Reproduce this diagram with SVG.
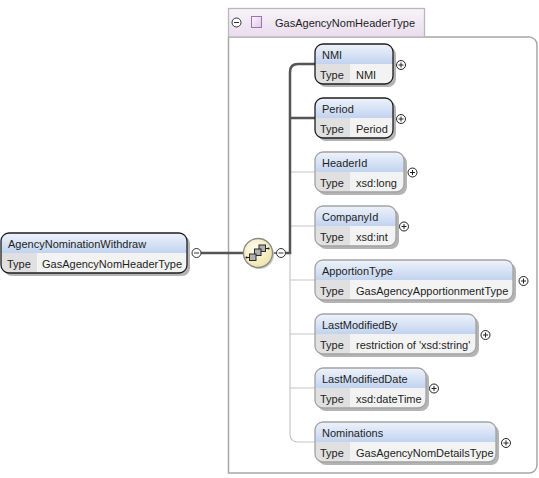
<svg xmlns="http://www.w3.org/2000/svg" width="539" height="478" viewBox="0 0 539 478">
<defs>
<linearGradient id="gHd" x1="0" y1="0" x2="0" y2="1"><stop offset="0" stop-color="#eef3fb"/><stop offset="1" stop-color="#c2d3f0"/></linearGradient>
<linearGradient id="gTab" x1="0" y1="0" x2="0" y2="1"><stop offset="0" stop-color="#f8f4f9"/><stop offset="1" stop-color="#eadcee"/></linearGradient>
<linearGradient id="gSq" x1="0" y1="0" x2="1" y2="1"><stop offset="0" stop-color="#fbf8fc"/><stop offset="1" stop-color="#dcc8e3"/></linearGradient>
<radialGradient id="gCmp" cx="0.4" cy="0.35" r="0.7"><stop offset="0" stop-color="#fffdf0"/><stop offset="1" stop-color="#eee3a6"/></radialGradient>
<g id="plus"><circle r="4.5" fill="#fff" stroke="#222" stroke-width="1"/><path d="M-2.5 0H2.5M0 -2.5V2.5" stroke="#222" stroke-width="1"/></g>
<g id="minus"><circle r="4.5" fill="#fff" stroke="#333" stroke-width="1"/><path d="M-2.5 0H2.5" stroke="#333" stroke-width="1"/></g>
</defs>
<style>
text{font-family:"Liberation Sans",Arial,sans-serif;font-size:11px;fill:#1e1e1e}
.sh{fill:#b4b4b4}
.val{fill:#f3f3f3}
.tc{fill:#e0e0e0}
.hd{fill:url(#gHd)}
.bd{fill:none;stroke-width:1.3}
.req{stroke:#1e1e1e}
.opt{stroke:#a2a2a2}
.thick{stroke:#555;stroke-width:2.5;fill:none}
.thin{stroke:#c6c6c6;stroke-width:1.2;fill:none}
.ib{fill:#b0b0b0;stroke:#2a2a2a;stroke-width:1}
</style>

<g id="complexType">
<path d="M228.5 37H529A8 8 0 0 1 537 45V465A8 8 0 0 1 529 473H228.5Z" fill="#fff" stroke="#a8a8a8" stroke-width="1.5"/>
<rect x="228.5" y="8.5" width="196" height="28.5" fill="url(#gTab)" stroke="#b8b8b8" stroke-width="1.3"/>
<use href="#minus" x="236.5" y="22.5"/>
<rect x="251.5" y="16.5" width="10" height="11" fill="url(#gSq)" stroke="#a070b2" stroke-width="1"/>
<text x="275" y="27">GasAgencyNomHeaderType</text>
</g>

<g id="connectors">
<path class="thin" d="M290 253V434Q290 442 298 442H315"/>
<path class="thin" d="M290 172H315M290 226H315M290 280H315M290 334H315M290 388H315"/>
<path class="thick" d="M285.5 253H290V72Q290 64 298 64H315M290 118H315"/>
<path class="thick" d="M201 253H243.5"/>
<path d="M272.5 253H276.5" stroke="#555" stroke-width="1.5"/>
</g>

<g id="root">
<rect class="sh" x="4" y="236" width="186" height="40" rx="8"/>
<rect class="val" x="1" y="233" width="186" height="40" rx="8"/>
<path class="tc" d="M1 253H37V273H9A8 8 0 0 1 1 265Z"/>
<path class="hd" d="M1 253V241A8 8 0 0 1 9 233H179A8 8 0 0 1 187 241V253Z"/>
<rect class="bd req" x="1" y="233" width="186" height="40" rx="8"/>
<text x="8" y="248">AgencyNominationWithdraw</text>
<text x="7" y="268">Type</text>
<text x="42" y="268">GasAgencyNomHeaderType</text>
<use href="#minus" x="196.5" y="253"/>
</g>

<g id="sequence">
<circle cx="259.5" cy="254.5" r="14.5" fill="#c9c9c9"/>
<circle cx="258" cy="253" r="14.5" fill="url(#gCmp)" stroke="#8a8a8a" stroke-width="1.3"/>
<path d="M246.5 257.5H249.5M265.5 248.5H268.5" stroke="#222" stroke-width="1.2"/>
<circle cx="246.5" cy="257.5" r="1.1" fill="#222"/>
<circle cx="268.5" cy="248.5" r="1.1" fill="#222"/>
<rect class="ib" x="259" y="245" width="6.5" height="6.5"/>
<rect class="ib" x="254.5" y="249" width="6.5" height="6.5"/>
<rect class="ib" x="249.5" y="254" width="6.5" height="6.5"/>
<use href="#minus" x="281" y="253"/>
</g>

<g id="NMI">
<rect class="sh" x="318" y="47" width="78" height="40" rx="8"/>
<rect class="val" x="315" y="44" width="78" height="40" rx="8"/>
<path class="tc" d="M315 64H350V84H323A8 8 0 0 1 315 76Z"/>
<path class="hd" d="M315 64V52A8 8 0 0 1 323 44H385A8 8 0 0 1 393 52V64Z"/>
<rect class="bd req" x="315" y="44" width="78" height="40" rx="8"/>
<text x="322" y="59">NMI</text>
<text x="320" y="79">Type</text>
<text x="356" y="79">NMI</text>
<use href="#plus" x="401" y="65"/>
</g>

<g id="Period">
<rect class="sh" x="318" y="101" width="78" height="40" rx="8"/>
<rect class="val" x="315" y="98" width="78" height="40" rx="8"/>
<path class="tc" d="M315 118H350V138H323A8 8 0 0 1 315 130Z"/>
<path class="hd" d="M315 118V106A8 8 0 0 1 323 98H385A8 8 0 0 1 393 106V118Z"/>
<rect class="bd req" x="315" y="98" width="78" height="40" rx="8"/>
<text x="322" y="113">Period</text>
<text x="320" y="133">Type</text>
<text x="356" y="133">Period</text>
<use href="#plus" x="401" y="119"/>
</g>

<g id="HeaderId">
<rect class="sh" x="318" y="155" width="89" height="40" rx="8"/>
<rect class="val" x="315" y="152" width="89" height="40" rx="8"/>
<path class="tc" d="M315 172H350V192H323A8 8 0 0 1 315 184Z"/>
<path class="hd" d="M315 172V160A8 8 0 0 1 323 152H396A8 8 0 0 1 404 160V172Z"/>
<rect class="bd opt" x="315" y="152" width="89" height="40" rx="8"/>
<text x="322" y="167">HeaderId</text>
<text x="320" y="187">Type</text>
<text x="356" y="187">xsd:long</text>
<use href="#plus" x="412.5" y="172.5"/>
</g>

<g id="CompanyId">
<rect class="sh" x="318" y="209" width="81" height="40" rx="8"/>
<rect class="val" x="315" y="206" width="81" height="40" rx="8"/>
<path class="tc" d="M315 226H350V246H323A8 8 0 0 1 315 238Z"/>
<path class="hd" d="M315 226V214A8 8 0 0 1 323 206H388A8 8 0 0 1 396 214V226Z"/>
<rect class="bd opt" x="315" y="206" width="81" height="40" rx="8"/>
<text x="322" y="221">CompanyId</text>
<text x="320" y="241">Type</text>
<text x="356" y="241">xsd:int</text>
<use href="#plus" x="404" y="226.5"/>
</g>

<g id="ApportionType">
<rect class="sh" x="318" y="263" width="198" height="40" rx="8"/>
<rect class="val" x="315" y="260" width="198" height="40" rx="8"/>
<path class="tc" d="M315 280H350V300H323A8 8 0 0 1 315 292Z"/>
<path class="hd" d="M315 280V268A8 8 0 0 1 323 260H505A8 8 0 0 1 513 268V280Z"/>
<rect class="bd opt" x="315" y="260" width="198" height="40" rx="8"/>
<text x="322" y="275">ApportionType</text>
<text x="320" y="295">Type</text>
<text x="356" y="295">GasAgencyApportionmentType</text>
<use href="#plus" x="523.5" y="281"/>
</g>

<g id="LastModifiedBy">
<rect class="sh" x="318" y="317" width="161" height="40" rx="8"/>
<rect class="val" x="315" y="314" width="161" height="40" rx="8"/>
<path class="tc" d="M315 334H350V354H323A8 8 0 0 1 315 346Z"/>
<path class="hd" d="M315 334V322A8 8 0 0 1 323 314H468A8 8 0 0 1 476 322V334Z"/>
<rect class="bd opt" x="315" y="314" width="161" height="40" rx="8"/>
<text x="322" y="329">LastModifiedBy</text>
<text x="320" y="349">Type</text>
<text x="356" y="349">restriction of 'xsd:string'</text>
<use href="#plus" x="485.5" y="335"/>
</g>

<g id="LastModifiedDate">
<rect class="sh" x="318" y="371" width="111" height="40" rx="8"/>
<rect class="val" x="315" y="368" width="111" height="40" rx="8"/>
<path class="tc" d="M315 388H350V408H323A8 8 0 0 1 315 400Z"/>
<path class="hd" d="M315 388V376A8 8 0 0 1 323 368H418A8 8 0 0 1 426 376V388Z"/>
<rect class="bd opt" x="315" y="368" width="111" height="40" rx="8"/>
<text x="322" y="383">LastModifiedDate</text>
<text x="320" y="403">Type</text>
<text x="356" y="403">xsd:dateTime</text>
<use href="#plus" x="434" y="388.5"/>
</g>

<g id="Nominations">
<rect class="sh" x="318" y="425" width="181" height="40" rx="8"/>
<rect class="val" x="315" y="422" width="181" height="40" rx="8"/>
<path class="tc" d="M315 442H350V462H323A8 8 0 0 1 315 454Z"/>
<path class="hd" d="M315 442V430A8 8 0 0 1 323 422H488A8 8 0 0 1 496 430V442Z"/>
<rect class="bd opt" x="315" y="422" width="181" height="40" rx="8"/>
<text x="322" y="437">Nominations</text>
<text x="320" y="457">Type</text>
<text x="356" y="457">GasAgencyNomDetailsType</text>
<use href="#plus" x="506" y="443"/>
</g>
</svg>
